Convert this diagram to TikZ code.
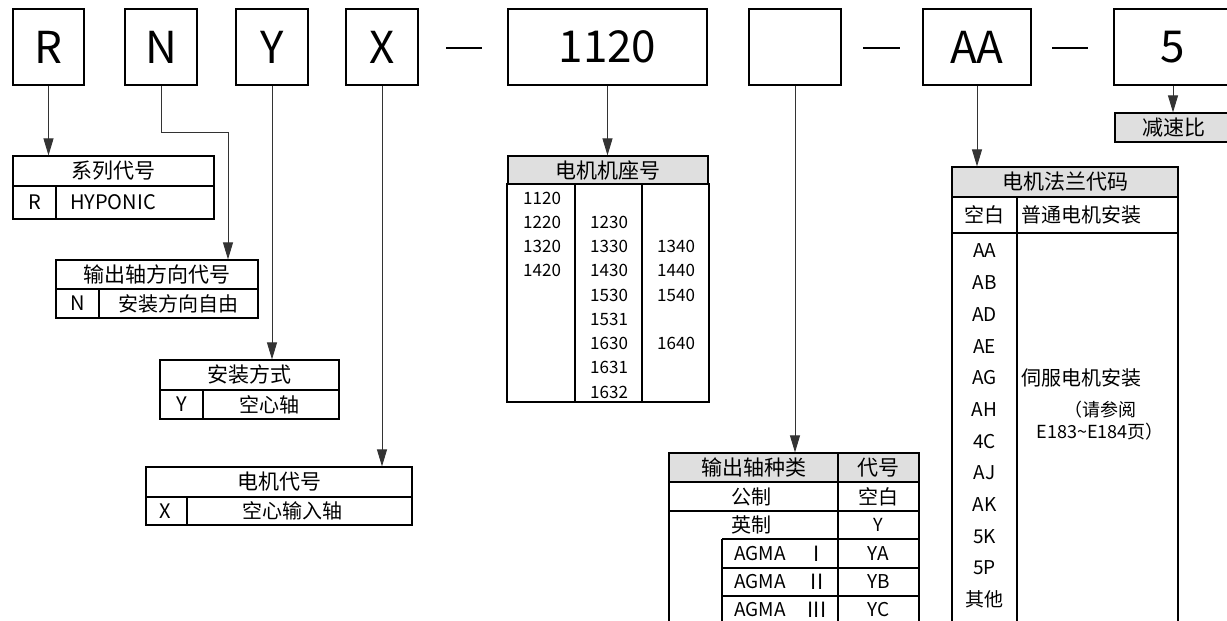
\documentclass[tikz,border=0pt]{standalone}
\usepackage{fontspec}
\setmainfont{Noto Sans CJK SC}
\usetikzlibrary{arrows.meta}

\begin{document}
\begin{tikzpicture}[x=1pt, y=-1pt,
  codebox/.style = {draw, line width=1.6pt, minimum height=76pt, inner sep=0pt, font=\fontsize{44}{48}\selectfont},
  hdrcell/.style = {draw, line width=1.2pt, inner sep=0pt, font=\fontsize{21}{24}\selectfont},
  grayhdr/.style = {hdrcell, fill=gray!25},
  tblline/.style = {line width=1.2pt},
  thkline/.style = {line width=1.8pt},
  tbltxt/.style = {inner sep=0pt, font=\fontsize{20}{24}\selectfont},
  numtxt/.style = {inner sep=0pt, anchor=west, font=\fontsize{17}{20}\selectfont},
  flgtxt/.style = {inner sep=0pt, font=\fontsize{19}{21}\selectfont},
  conn/.style = {line width=0.9pt, black!80, -{Triangle[length=17pt,width=10pt]}},
  sepdash/.style = {line width=2.5pt}
]
  \clip (0,0) rectangle (1227,621);
  % model code boxes
  \node[codebox, minimum width=71pt] (rbox) at (48.5,47) {R};
  \node[codebox, minimum width=72pt] (nbox) at (161,47) {N};
  \node[codebox, minimum width=72pt] (ybox) at (272,47) {Y};
  \node[codebox, minimum width=72pt] (xbox) at (382,47) {X};
  \node[codebox, minimum width=199pt] (sizebox) at (607.5,47) {1120};
  \node[codebox, minimum width=92pt] (blankbox) at (795,47) {};
  \node[codebox, minimum width=108pt] (aabox) at (977,47) {AA};
  \node[codebox, minimum width=118pt] (ratiobox) at (1173,47) {5};
  \draw[sepdash] (446,48) -- (482,48);
  \draw[sepdash] (863,48) -- (900,48);
  \draw[sepdash] (1052,48) -- (1088,48);

  % series
  \node[hdrcell, minimum width=201pt, minimum height=30pt] (serhdr) at (113.5,171) {系列代号};
  \draw[tblline] (13,186) rectangle (214,219);
  \draw[tblline] (56,186) -- (56,219);
  \node[tbltxt] (serR) at (34.5,202.5) {R};
  \node[tbltxt] (serH) at (113,202.5) {HYPONIC};

  % output shaft direction
  \node[hdrcell, minimum width=202pt, minimum height=29pt] (dirhdr) at (157,274.5) {输出轴方向代号};
  \draw[tblline] (56,289) rectangle (258,318);
  \draw[tblline] (99,289) -- (99,318);
  \node[tbltxt] (dirN) at (77.5,303.5) {N};
  \node[tbltxt] (dirF) at (178.5,303.5) {安装方向自由};

  % mounting
  \node[hdrcell, minimum width=179pt, minimum height=30pt] (mnthdr) at (249.5,375) {安装方式};
  \draw[tblline] (160,390) rectangle (339,419);
  \draw[tblline] (203,390) -- (203,419);
  \node[tbltxt] (mntY) at (181.5,404.5) {Y};
  \node[tbltxt] (mntH) at (269,404.5) {空心轴};

  % motor
  \node[hdrcell, minimum width=266pt, minimum height=30pt] (mothdr) at (279,482) {电机代号};
  \draw[tblline] (146,497) rectangle (412,525);
  \draw[tblline] (187,497) -- (187,525);
  \node[tbltxt] (motX) at (165,511) {X};
  \node[tbltxt] (motH) at (292,511) {空心输入轴};

  % frame size
  \node[grayhdr, minimum width=200pt, minimum height=28pt] (basehdr) at (608,170) {电机机座号};
  \draw[thkline] (507,184) rectangle (709,402);
  \draw[thkline] (575,184) -- (575,402);
  \draw[thkline] (642,184) -- (642,402);
  \foreach \r/\v in {0/1120,1/1220,2/1320,3/1420}
    \node[numtxt] (fa\r) at (523,{198+24.25*\r}) {\v};
  \foreach \r/\v in {1/1230,2/1330,3/1430,4/1530,5/1531,6/1630,7/1631,8/1632}
    \node[numtxt] (fb\r) at (590,{198+24.25*\r}) {\v};
  \foreach \r/\v in {2/1340,3/1440,4/1540,6/1640}
    \node[numtxt] (fc\r) at (657,{198+24.25*\r}) {\v};

  % output shaft type
  \node[grayhdr, minimum width=169pt, minimum height=29pt] (shafthdr) at (753.5,467.5) {输出轴种类};
  \node[grayhdr, minimum width=81pt, minimum height=29pt] (shaftcodehdr) at (878.5,467.5) {代号};
  \foreach \x in {669,838,919}
    \draw[tblline] (\x,482) -- (\x,625);
  \draw[tblline] (669,511) -- (919,511);
  \draw[tblline] (722,539) -- (722,625);
  \foreach \y in {539,568,596}
    \draw[tblline] (722,\y) -- (919,\y);
  \node[tbltxt] (metric) at (751,496.5) {公制};
  \node[tbltxt] (metricc) at (878.5,496.5) {空白};
  \node[tbltxt] (inch) at (751,525) {英制};
  \node[tbltxt, font=\fontsize{18}{20}\selectfont] (inchc) at (878.5,525) {Y};
  \foreach \r/\n/\c in {0/I/YA,1/II/YB,2/III/YC} {
    \node[numtxt, font=\fontsize{19}{21}\selectfont] (agma\r) at (734,{553.5+28*\r}) {AGMA};
    \node[flgtxt, font=\fontsize{21}{23}\selectfont] (agman\r) at (817,{553.5+28*\r}) {\n};
    \node[flgtxt] (agmac\r) at (878.5,{553.5+28*\r}) {\c};
  }

  % motor flange
  \node[grayhdr, minimum width=226pt, minimum height=30pt] (flghdr) at (1065,182) {电机法兰代码};
  \foreach \x in {952,1017,1178}
    \draw[tblline] (\x,197) -- (\x,625);
  \draw[tblline] (952,233) -- (1178,233);
  \node[tbltxt] (flgblank) at (984.5,215) {空白};
  \node[tbltxt, anchor=west] (flgstd) at (1021,215) {普通电机安装};
  \foreach \c [count=\i from 0] in {AA,AB,AD,AE,AG,AH,4C,AJ,AK,5K,5P,其他}
    \node[flgtxt] (flg\i) at (984.5,{251+31.7*\i}) {\c};
  \node[tbltxt, anchor=west] (flgservo) at (1021,378) {伺服电机安装};
  \node[flgtxt, font=\fontsize{18}{22}\selectfont] (flgref) at (1100,421)
    [align=center] {（请参阅\\E183\textasciitilde E184页）};

  % reduction ratio
  \node[grayhdr, minimum width=117pt, minimum height=29pt] (ratiohdr) at (1173.5,127.5) {减速比};

  % connectors
  \draw[conn] (rbox.south) -- (rbox.south |- serhdr.north);
  \coordinate (nbend) at (228,132);
  \draw[conn] (nbox.south) |- (nbend) -- (nbend |- dirhdr.north);
  \draw[conn] (ybox.south) -- (ybox.south |- mnthdr.north);
  \draw[conn] (xbox.south) -- (xbox.south |- mothdr.north);
  \draw[conn] (sizebox.south) -- (sizebox.south |- basehdr.north);
  \draw[conn] (blankbox.south) -- (blankbox.south |- shafthdr.north);
  \draw[conn] (aabox.south) -- (aabox.south |- flghdr.north);
  \draw[conn] (ratiobox.south) -- (ratiobox.south |- ratiohdr.north);
\end{tikzpicture}
\end{document}
